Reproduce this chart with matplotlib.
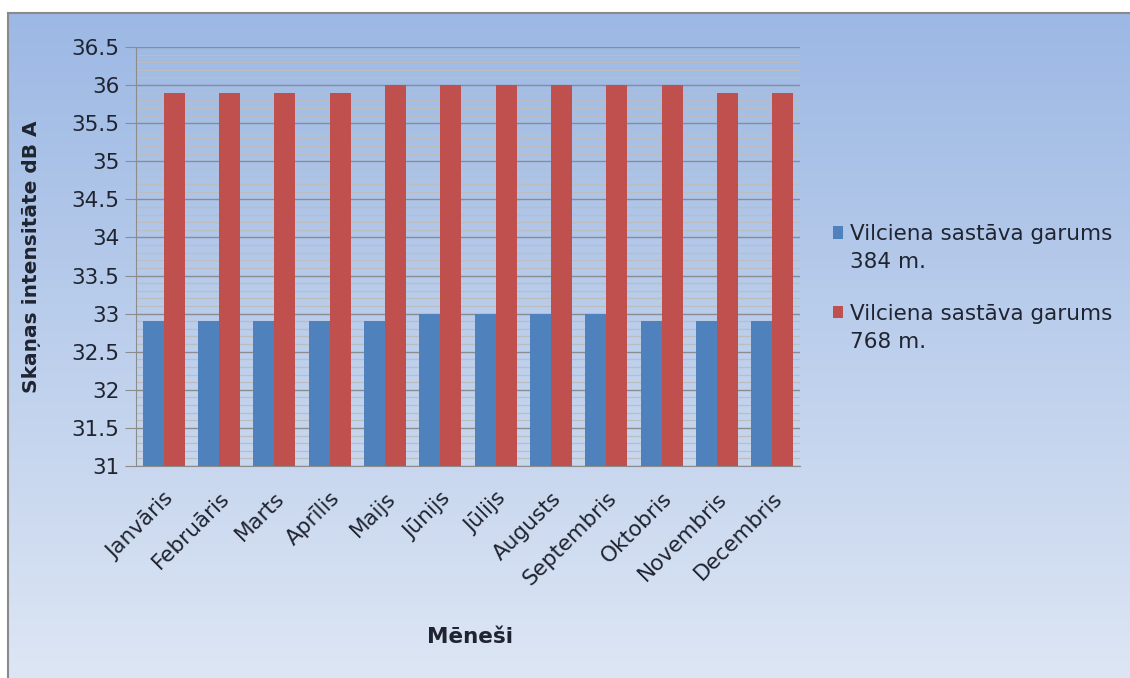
import numpy as np
import matplotlib
matplotlib.use("Agg")
import matplotlib.pyplot as plt
from matplotlib.container import BarContainer
from matplotlib.patches import Rectangle
from matplotlib.legend_handler import HandlerPatch, update_from_first_child
from matplotlib.ticker import MultipleLocator

plt.rcParams["font.family"] = ["DejaVu Sans"]

months = ["Janvāris", "Februāris", "Marts", "Aprīlis", "Maijs", "Jūnijs",
          "Jūlijs", "Augusts", "Septembris", "Oktobris", "Novembris", "Decembris"]
train_384 = [32.9, 32.9, 32.9, 32.9, 32.9, 33.0, 33.0, 33.0, 33.0, 32.9, 32.9, 32.9]
train_768 = [35.9, 35.9, 35.9, 35.9, 36.0, 36.0, 36.0, 36.0, 36.0, 36.0, 35.9, 35.9]
series_labels = ["Vilciena sastāva garums\n384 m.", "Vilciena sastāva garums\n768 m."]

BLUE = "#4F81BD"
RED = "#C0504D"
INK = "#1f2430"
FS = 15.5
W, H = 1130, 678

fig = plt.figure(figsize=(W / 100, H / 100), dpi=100)
fig.patch.set_facecolor("white")

# chart-area frame with vertical gradient
bx0, by1 = 8 / W, 1 - 13 / H
bg = fig.add_axes([bx0, 0, 1 - bx0, by1], zorder=0)
grad = np.linspace(0, 1, 256).reshape(-1, 1)
top = np.array([0x9C, 0xB8, 0xE4]) / 255
bot = np.array([0xDD, 0xE6, 0xF4]) / 255
img = top + (bot - top) * grad[..., None]
bg.imshow(img, aspect="auto", extent=[0, 1, 0, 1], origin="upper")
bg.set_xticks([]); bg.set_yticks([])
for s in ["right", "bottom"]:
    bg.spines[s].set_visible(False)
for s in ["left", "top"]:
    bg.spines[s].set_color("#8a8a8a")
    bg.spines[s].set_linewidth(1.5)

left, right, ytop, ybot = 136, 800, 47, 466
ax = fig.add_axes([left / W, 1 - ybot / H, (right - left) / W, (ybot - ytop) / H], zorder=1)
ax.patch.set_alpha(0)

x = np.arange(len(months))
bw = 0.38
ax.bar(x - bw / 2, train_384, bw, color=BLUE, label=series_labels[0], zorder=3)
ax.bar(x + bw / 2, train_768, bw, color=RED, label=series_labels[1], zorder=3)

ax.set_ylim(31, 36.5)
ax.set_xlim(-0.5, len(months) - 0.5)
ax.yaxis.set_major_locator(MultipleLocator(0.5))
ax.yaxis.set_minor_locator(MultipleLocator(0.1))
ax.set_yticklabels([f"{v:g}" for v in ax.get_yticks()])
ax.grid(axis="y", which="major", color="#8c8c8c", lw=1.0, zorder=1)
ax.grid(axis="y", which="minor", color="#bdbdbd", lw=0.9, zorder=1)
ax.tick_params(axis="y", which="major", length=8, color="#8c8c8c", labelsize=FS,
               labelcolor=INK, pad=4)
ax.tick_params(axis="y", which="minor", length=0)
ax.tick_params(axis="x", length=0, pad=16)
ax.set_xticks(x)
ax.set_xticklabels(months, rotation=45, ha="right", rotation_mode="anchor",
                   fontsize=FS, color=INK)
for s in ["top", "right"]:
    ax.spines[s].set_visible(False)
for s in ["left", "bottom"]:
    ax.spines[s].set_color("#8c8c8c")

ax.set_ylabel("Skaņas intensitāte dB A", fontsize=14.5, fontweight="bold", color=INK)
ax.yaxis.set_label_coords(-0.143, 0.5)
fig.text(470 / W, 1 - 637 / H, "Mēneši", fontsize=FS, fontweight="bold",
         color=INK, ha="center", va="center")


# legend swatch sits on the first text line, not the middle of the entry
def top_line_swatch(legend, orig_handle, xdescent, ydescent, width, height, fontsize):
    return Rectangle((-xdescent, -ydescent + 0.75 * fontsize), width, height)


swatch = HandlerPatch(patch_func=top_line_swatch, update_func=update_from_first_child)
leg = ax.legend(loc="center left", bbox_to_anchor=(1.02, 0.425), frameon=False,
                fontsize=FS, handlelength=0.5, handleheight=0.5,
                handletextpad=0.3, labelspacing=1.45, labelcolor=INK,
                handler_map={BarContainer: swatch})
for t in leg.get_texts():
    t.set_linespacing(1.5)

fig.savefig("out.png", dpi=100)
